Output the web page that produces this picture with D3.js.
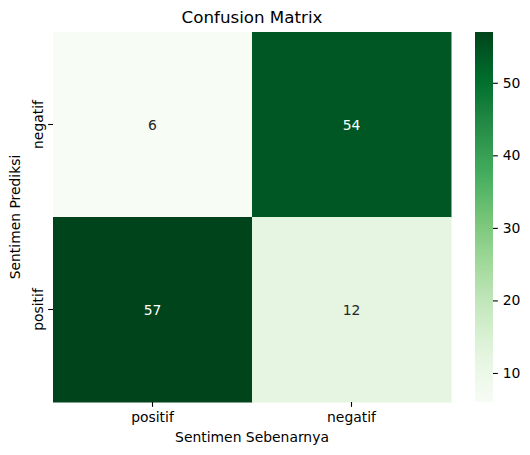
<!DOCTYPE html>
<html>
<head>
    <title>Confusion Matrix</title>
    <script src="https://cdn.jsdelivr.net/npm/d3@7"></script>
    <style>
        body { margin: 0; background: #fff; }
        text { font-family: "DejaVu Sans", sans-serif; }
    </style>
</head>
<body>
    <svg width="530" height="455" id="mainsvg"></svg>
    <script>
        const predLabels = ['negatif', 'positif'];   // rows (y)
        const trueLabels = ['positif', 'negatif'];   // columns (x)
        const matrix = [
            [6, 54],
            [57, 12]
        ];
        const cbTicks = [10, 20, 30, 40, 50];

        const svg = d3.select('svg');
        const mLeft = 53, mTop = 32, mRight = 451, mBottom = 402;
        const tick = 4.86;

        // matplotlib Greens = linear over the 9 brewer colours
        const greens = ['#f7fcf5', '#e5f5e0', '#c7e9c0', '#a1d99b', '#74c476',
                        '#41ab5d', '#238b45', '#006d2c', '#00441b'];
        const cells = [];
        matrix.forEach((row, i) => row.forEach((v, j) => cells.push({ i, j, v })));
        const vmin = d3.min(cells, d => d.v), vmax = d3.max(cells, d => d.v);
        const norm = d3.scaleLinear().domain([vmin, vmax]).range([0, 1]).clamp(true);
        const cmap = d3.scaleLinear().domain(d3.range(9).map(k => k / 8)).range(greens)
            .interpolate(d3.interpolateRgb);
        const color = v => cmap(norm(v));

        const x = d3.scaleBand().domain(trueLabels).range([mLeft, mRight]);
        const y = d3.scaleBand().domain(predLabels).range([mTop, mBottom]);

        svg.append('g').selectAll('rect').data(cells).join('rect')
            .attr('x', d => x(trueLabels[d.j]))
            .attr('y', d => y(predLabels[d.i]))
            .attr('width', x.bandwidth() + 0.5)
            .attr('height', y.bandwidth() + 0.5)
            .attr('fill', d => color(d.v));

        svg.append('g').selectAll('text').data(cells).join('text')
            .attr('x', d => x(trueLabels[d.j]) + x.bandwidth() / 2)
            .attr('y', d => y(predLabels[d.i]) + y.bandwidth() / 2)
            .attr('text-anchor', 'middle')
            .attr('dominant-baseline', 'central')
            .attr('font-size', '13.9px')
            .attr('fill', d => norm(d.v) > 0.5 ? '#ffffff' : '#262626')
            .text(d => d.v);

        // axes
        const xAxis = svg.append('g').attr('transform', `translate(0,${mBottom})`)
            .call(d3.axisBottom(x).tickSize(tick).tickPadding(tick));
        const yAxis = svg.append('g').attr('transform', `translate(${mLeft},0)`)
            .call(d3.axisLeft(y).tickSize(tick).tickPadding(tick));
        [xAxis, yAxis].forEach(g => {
            g.select('.domain').remove();
            g.selectAll('line').attr('stroke', '#000').attr('stroke-width', 1.1);
            g.selectAll('text').attr('font-size', '13.9px').attr('fill', '#000')
                .attr('font-family', '"DejaVu Sans", sans-serif');
        });
        yAxis.selectAll('.tick text')
            .attr('transform', 'rotate(-90)')
            .attr('x', 0).attr('dy', 0)
            .attr('y', -2 * tick)
            .attr('text-anchor', 'middle');

        svg.append('text')
            .attr('x', (mLeft + mRight) / 2).attr('y', 23)
            .attr('text-anchor', 'middle').attr('font-size', '16.7px').attr('fill', '#000')
            .text('Confusion Matrix');
        svg.append('text')
            .attr('x', (mLeft + mRight) / 2).attr('y', 442)
            .attr('text-anchor', 'middle').attr('font-size', '13.9px').attr('fill', '#000')
            .text('Sentimen Sebenarnya');
        svg.append('text')
            .attr('transform', `translate(20,${(mTop + mBottom) / 2}) rotate(-90)`)
            .attr('text-anchor', 'middle').attr('font-size', '13.9px').attr('fill', '#000')
            .text('Sentimen Prediksi');

        // colorbar
        const cbX = 475, cbW = 18;
        const cy = d3.scaleLinear().domain([vmin, vmax]).range([mBottom, mTop]);
        const defs = svg.append('defs');
        const grad = defs.append('linearGradient').attr('id', 'cbgrad')
            .attr('x1', 0).attr('y1', 1).attr('x2', 0).attr('y2', 0);
        d3.range(0, 1.0001, 0.125).forEach(t => {
            grad.append('stop').attr('offset', t).attr('stop-color', cmap(t));
        });
        svg.append('rect')
            .attr('x', cbX).attr('y', mTop)
            .attr('width', cbW).attr('height', mBottom - mTop)
            .attr('fill', 'url(#cbgrad)');
        const cbAxis = svg.append('g').attr('transform', `translate(${cbX + cbW},0)`)
            .call(d3.axisRight(cy).tickValues(cbTicks).tickSize(tick).tickPadding(tick));
        cbAxis.select('.domain').remove();
        cbAxis.selectAll('line').attr('stroke', '#000').attr('stroke-width', 1.1);
        cbAxis.selectAll('text').attr('font-size', '13.9px').attr('fill', '#000')
            .attr('font-family', '"DejaVu Sans", sans-serif');
    </script>
</body>
</html>
